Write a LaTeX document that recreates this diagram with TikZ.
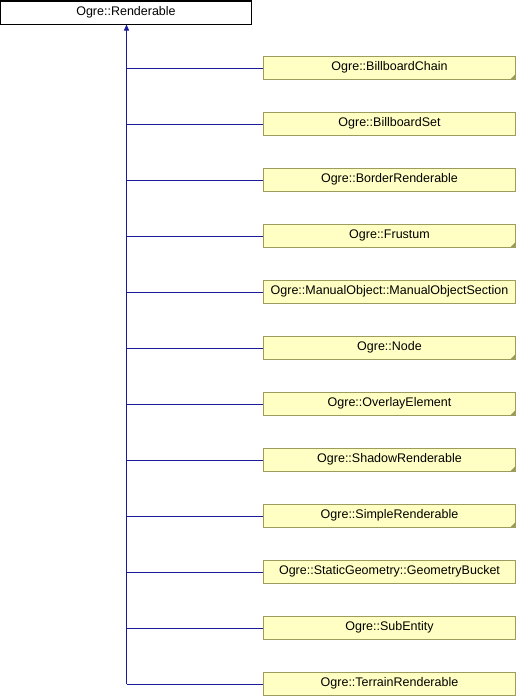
\documentclass[tikz,border=0pt]{standalone}
\usepackage{fontspec}
\setmainfont{Liberation Sans}
\usetikzlibrary{arrows.meta}
\definecolor{boxfill}{HTML}{FFFFC4}
\definecolor{boxline}{HTML}{9C9C5C}
\definecolor{edgeblue}{HTML}{1A1A9A}
\definecolor{markgray}{HTML}{9C9C5C}
\tikzset{
  x=1pt,y=1pt,
  classbox/.style={draw=boxline, fill=boxfill, line width=1pt, minimum width=252pt, minimum height=23pt, inner sep=0pt, font=\fontsize{12.5}{14}\selectfont},
  rootbox/.style={draw=black, fill=white, line width=1pt, minimum width=251pt, minimum height=23pt, inner sep=0pt, font=\fontsize{12.5}{14}\selectfont},
  edge/.style={draw=edgeblue, line width=1pt},
}
\newcommand{\cornermark}[1]{\fill[markgray] ([xshift=-0.5pt,yshift=0.5pt]#1.south east) -- ++(-5,0) -- ++(5,5) -- cycle;}
\begin{document}
\begin{tikzpicture}
\useasboundingbox (0,0) rectangle (516,-696);
\node[rootbox] (root) at (126,-12.5) {Ogre::Renderable};
\coordinate (trunk) at (126.5,-684);
\foreach \i/\name/\txt in {
  0/bc/Ogre::BillboardChain,
  1/bs/Ogre::BillboardSet,
  2/br/Ogre::BorderRenderable,
  3/fr/Ogre::Frustum,
  4/mo/Ogre::ManualObject::ManualObjectSection,
  5/nd/Ogre::Node,
  6/oe/Ogre::OverlayElement,
  7/sh/Ogre::ShadowRenderable,
  8/si/Ogre::SimpleRenderable,
  9/gb/Ogre::StaticGeometry::GeometryBucket,
  10/se/Ogre::SubEntity,
  11/tr/Ogre::TerrainRenderable}{
  \node[classbox] (\name) at (389.5,-67.5-56*\i) {\txt};
  \coordinate (j\name) at (126.5,-68-56*\i);
  \draw[edge] (j\name) -- (\name.west |- j\name);
}
\foreach \n in {bc,fr,nd,oe,sh,si}{\cornermark{\n}}
\draw[edge,-{Triangle[length=6pt,width=5pt]}] (trunk) -- (root.south -| trunk);
\end{tikzpicture}
\end{document}
